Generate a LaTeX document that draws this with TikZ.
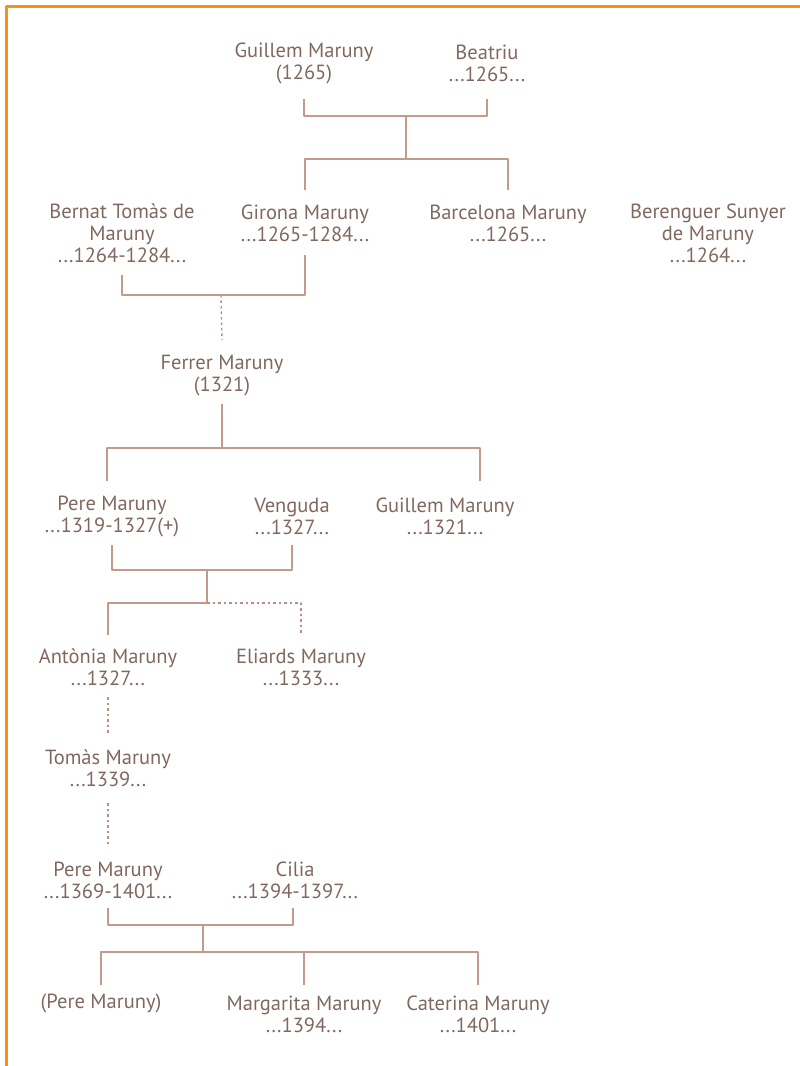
\documentclass[tikz,border=0pt]{standalone}
\usepackage{fontspec}
\setmainfont{PT Sans}
\definecolor{frame}{RGB}{248,145,25}
\definecolor{ink}{RGB}{128,104,94}
\definecolor{kin}{RGB}{195,155,140}
\begin{document}
\begin{tikzpicture}[x=1pt, y=-1pt, line join=round,
	person/.style={align=center, text=ink, inner sep=0pt, font=\fontsize{20.5}{22}\selectfont},
	link/.style={draw=kin, line width=1.2pt},
	maybe/.style={link, draw=kin!80!ink, line width=1.4pt, dash pattern=on 2.5pt off 3pt}]
	\useasboundingbox (0,0) rectangle (800,1066);
	\draw[frame, line width=3.2pt] (6.5,1066) -- (6.5,6.5) -- (800,6.5);
	% persones
	\node[person] (guillem) at (304,63) {Guillem Maruny\\(1265)};
	\node[person] (beatriu) at (487,63) {Beatriu\\...1265...};
	\node[person] (bernat) at (122,233) {Bernat Tomàs de\\Maruny\\...1264-1284...};
	\node[person] (girona) at (305,223) {Girona Maruny\\...1265-1284...};
	\node[person] (barcelona) at (508,223) {Barcelona Maruny\\...1265...};
	\node[person] (berenguer) at (708,233) {Berenguer Sunyer\\de Maruny\\...1264...};
	\node[person] (ferrer) at (222,376) {Ferrer Maruny\\(1321)};
	\node[person] (pere) at (112,516) {Pere Maruny\\...1319-1327(+)};
	\node[person] (venguda) at (292,516) {Venguda\\...1327...};
	\node[person] (guillemb) at (445,516) {Guillem Maruny\\...1321...};
	\node[person] (antonia) at (108,667) {Antònia Maruny\\...1327...};
	\node[person] (eliards) at (301,667) {Eliards Maruny\\...1333...};
	\node[person] (tomas) at (108,768) {Tomàs Maruny\\...1339...};
	\node[person] (perec) at (108,880) {Pere Maruny\\...1369-1401...};
	\node[person] (cilia) at (295,880) {Cilia\\...1394-1397...};
	\node[person] (pered) at (101,1003) {(Pere Maruny)};
	\node[person] (margarita) at (304,1014) {Margarita Maruny\\...1394...};
	\node[person] (caterina) at (478,1014) {Caterina Maruny\\...1401...};
	% enllaços
	\coordinate (m1) at (406,116); \coordinate (k1) at (406,159);
	\draw[link] (guillem.center |- 0,99) |- (m1) -| (beatriu.center |- 0,99);
	\draw[link] (m1) -- (k1);
	\draw[link] (girona.center |- 0,190) |- (k1) -| (barcelona.center |- 0,190);
	\coordinate (m2) at (221,295);
	\draw[link] (bernat.center |- 0,275) |- (m2) -| (girona.center |- 0,255);
	\draw[maybe] (m2) -- (ferrer.center |- 0,340);
	\coordinate (k2) at (222,448); \coordinate (g2) at (480,481);
	\draw[link] (ferrer.center |- 0,404) -- (k2);
	\draw[link] (107,481) |- (k2) -| (g2);
	\coordinate (m3) at (207,570); \coordinate (k3) at (207,603);
	\draw[link] (pere.center |- 0,545) |- (m3) -| (venguda.center |- 0,545);
	\draw[link] (m3) -- (k3) -| (antonia.center |- 0,635);
	\draw[maybe] (k3) -| (eliards.center |- 0,633);
	\draw[maybe] (antonia.center |- 0,697) -- (tomas.center |- 0,735);
	\draw[maybe] (tomas.center |- 0,803) -- (perec.center |- 0,845);
	\coordinate (m4) at (203,925); \coordinate (k4) at (203,952);
	\draw[link] (perec.center |- 0,908) |- (m4) -| (293,908);
	\draw[link] (m4) -- (k4);
	\draw[link] (pered.center |- 0,985) |- (k4) -| (margarita.center |- 0,985);
	\draw[link] (k4) -| (caterina.center |- 0,985);
\end{tikzpicture}
\end{document}
